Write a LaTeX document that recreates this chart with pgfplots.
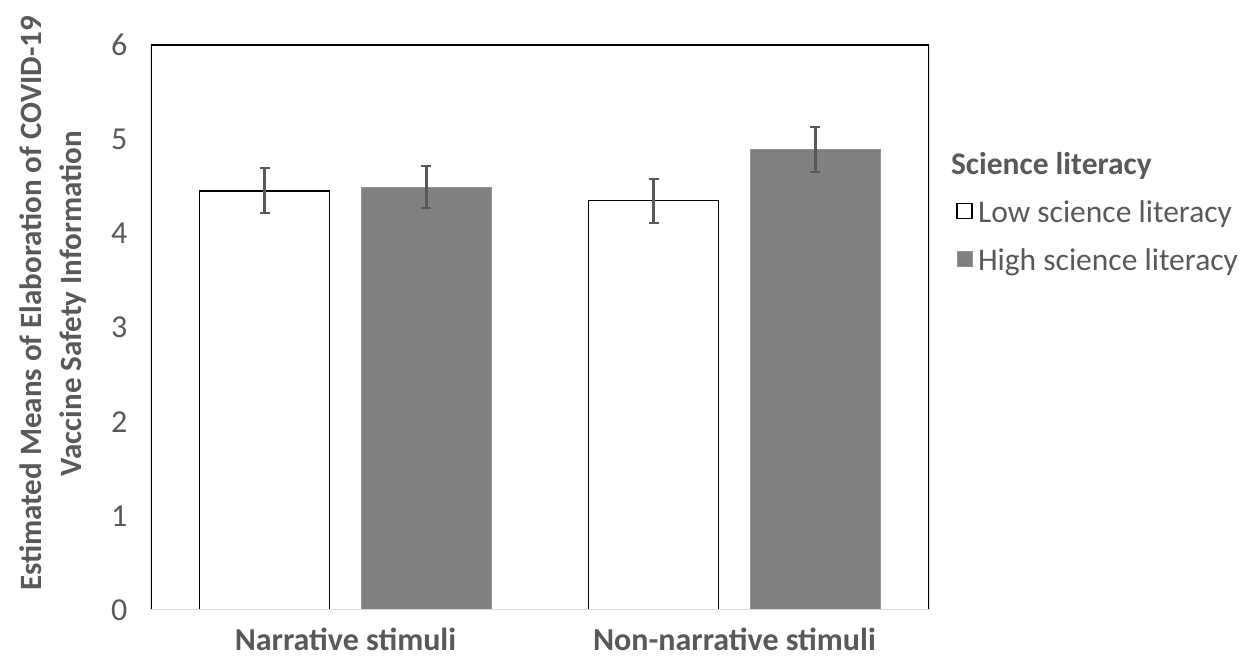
\documentclass[border=0pt]{standalone}
\usepackage{fontspec}
\setmainfont{Carlito}
\usepackage{pgfplots}
\pgfplotsset{compat=1.18}
\definecolor{txt}{HTML}{595959}
\definecolor{barg}{HTML}{808080}
\begin{document}
\begin{tikzpicture}[x=1pt,y=1pt]
\path[use as bounding box] (-151,-51) rectangle (1092,610);
\begin{axis}[
  at={(0,0)}, anchor=south west,
  scale only axis, width=778pt, height=565pt,
  xmin=-0.5, xmax=1.5, ymin=0, ymax=6,
  ytick={0,1,2,3,4,5,6},
  xtick={0,1}, xticklabels={\textbf{Narrative stimuli},\textbf{Non-narrative stimuli}},
  major tick length=0pt,
  axis line style={draw=none},
  ticklabel style={font=\fontsize{32}{36}\selectfont, text=txt},
  /pgf/number format/assume math mode=true,
  yticklabel style={xshift=-20pt},
  xticklabel style={yshift=-14pt},
  ylabel={\textbf{Estimated Means of Elaboration of COVID-19}\\\textbf{Vaccine Safety Information}},
  ylabel style={font=\fontsize{31}{40}\selectfont, text=txt, align=center, yshift=18pt, xshift=24pt},
  ybar, bar width=0.334,
  legend style={at={(1.035,0.818)}, anchor=north west, draw=none, fill=none,
    font=\fontsize{31.5}{36}\selectfont, text=txt, row sep=21pt, inner xsep=0pt,
    /tikz/every even column/.append style={column sep=0pt}},
  legend cell align=left,
  legend image code/.code={\draw[#1] (0pt,-6pt) rectangle (15pt,9pt);},
]
\addlegendimage{empty legend}
\addlegendentry{\hspace{-24pt}\textbf{Science literacy}}
\addplot[fill=white, draw=black, line width=1.6pt, bar shift=-0.208,
  error bars/.cd, y dir=both, y explicit,
  error bar style={draw=txt, line width=2.2pt},
  error mark options={draw=txt, line width=2pt, mark size=5pt, rotate=90}]
  coordinates {(0,4.45) += (0,0.24) -= (0,0.23) (1,4.35) += (0,0.23) -= (0,0.24)};
\addlegendentry{\hspace{3pt}Low science literacy}
\addplot[fill=barg, draw=barg!85, line width=0.8pt, bar shift=0.208,
  error bars/.cd, y dir=both, y explicit,
  error bar style={draw=txt, line width=2.2pt},
  error mark options={draw=txt, line width=2pt, mark size=5pt, rotate=90}]
  coordinates {(0,4.49) += (0,0.23) -= (0,0.22) (1,4.89) += (0,0.24) -= (0,0.24)};
\addlegendentry{\hspace{3pt}High science literacy}
\draw[black, line width=1.6pt] (rel axis cs:0,0) -- (rel axis cs:0,1) -- (rel axis cs:1,1) -- (rel axis cs:1,0);
\draw[black!15, line width=1.6pt] (rel axis cs:0,0) -- (rel axis cs:1,0);
\end{axis}
\end{tikzpicture}
\end{document}
